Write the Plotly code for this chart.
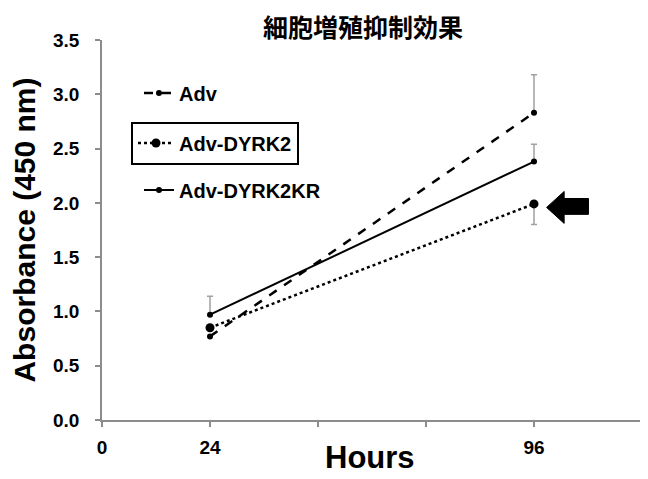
import plotly.graph_objects as go

# ---- data ----
HOURS = [24, 96]
SERIES = ["Adv", "Adv-DYRK2", "Adv-DYRK2KR"]
ADV = [0.77, 2.83]
ADV_ERR_UP = [0.0, 0.35]
DYRK2 = [0.85, 1.99]
DYRK2_ERR_DOWN = [0.0, 0.19]
DYRK2KR = [0.97, 2.38]
DYRK2KR_ERR_UP = [0.17, 0.16]
X_TICKS = [0, 24, 48, 72, 96, 120]
X_TICK_TEXT = ["0", "24", "", "", "96", ""]
Y_TICKS = [0.0, 0.5, 1.0, 1.5, 2.0, 2.5, 3.0, 3.5]

FONT = "Liberation Sans, Arial, sans-serif"
ERR_COLOR = "#a0a0a0"

# page body has an 8px default margin, so the figure is laid out in 640x471
W, H = 640, 471
L, R, T, B = 94, 6, 32, 59
PW, PH = W - L - R, H - T - B

fig = go.Figure()

fig.add_trace(go.Scatter(
    x=HOURS, y=ADV, name=SERIES[0], mode="lines+markers",
    line=dict(color="black", width=2.5, dash="dash"),
    marker=dict(color="black", size=6),
    error_y=dict(type="data", symmetric=False, array=ADV_ERR_UP,
                 arrayminus=[0, 0], color=ERR_COLOR, thickness=1.5, width=3),
    legend="legend", showlegend=True,
))
fig.add_trace(go.Scatter(
    x=HOURS, y=DYRK2, name=SERIES[1], mode="lines+markers",
    line=dict(color="black", width=2.5, dash="dot"),
    marker=dict(color="black", size=9),
    error_y=dict(type="data", symmetric=False, array=[0, 0],
                 arrayminus=DYRK2_ERR_DOWN, color=ERR_COLOR, thickness=1.5, width=3),
    legend="legend2", showlegend=True,
))
fig.add_trace(go.Scatter(
    x=HOURS, y=DYRK2KR, name=SERIES[2], mode="lines+markers",
    line=dict(color="black", width=2),
    marker=dict(color="black", size=6),
    error_y=dict(type="data", symmetric=False, array=DYRK2KR_ERR_UP,
                 arrayminus=[0, 0], color=ERR_COLOR, thickness=1.5, width=3),
    legend="legend3", showlegend=True,
))

legend_common = dict(
    font=dict(family=FONT, size=20, color="black", weight="bold"),
    bgcolor="rgba(0,0,0,0)", xanchor="left", yanchor="middle",
    visible=True,
)

fig.update_layout(
    width=W, height=H,
    showlegend=True,
    margin=dict(l=L, r=R, t=T, b=B, autoexpand=False),
    paper_bgcolor="white", plot_bgcolor="white",
    title=dict(text="細胞増殖抑制効果", x=355 / W, xanchor="center",
               y=1 - 20 / H, yanchor="middle",
               font=dict(family="Noto Sans CJK JP", size=25, color="black", weight="bold")),
    xaxis=dict(
        range=[0, 120], tickvals=X_TICKS, ticktext=X_TICK_TEXT,
        showline=True, linecolor="#8c8c8c", linewidth=1.5,
        ticks="outside", ticklen=5, tickcolor="#8c8c8c", tickwidth=1.5,
        showgrid=False, zeroline=False, automargin=False,
        ticklabelstandoff=4,
        tickfont=dict(family=FONT, size=19, color="black", weight="bold"),
    ),
    yaxis=dict(
        range=[0, 3.5], tickvals=Y_TICKS, tickformat=".1f",
        showline=True, linecolor="#8c8c8c", linewidth=1.5,
        ticks="outside", ticklen=5, tickcolor="#8c8c8c", tickwidth=1.5,
        showgrid=False, zeroline=False, automargin=False,
        ticklabelstandoff=12,
        tickfont=dict(family=FONT, size=19, color="black", weight="bold"),
        title=dict(text="Absorbance (450 nm)", standoff=9,
                   font=dict(family=FONT, size=30, color="black", weight="bold")),
    ),
    annotations=[dict(
        text="Hours", xref="paper", yref="paper",
        x=(362 - L) / PW, y=(PH + T - 449) / PH,
        xanchor="center", yanchor="middle", showarrow=False,
        font=dict(family=FONT, size=31, color="black", weight="bold"),
    )],
    legend=dict(x=37 / PW, y=(PH + T - 85) / PH, borderwidth=0, itemwidth=30,
                **legend_common),
    legend2=dict(x=29 / PW, y=(PH + T - 135) / PH, borderwidth=2, itemwidth=36,
                 bordercolor="black", **legend_common),
    legend3=dict(x=37 / PW, y=(PH + T - 182) / PH, borderwidth=0, itemwidth=30,
                 **legend_common),
    shapes=[dict(
        type="path", xref="x", yref="y",
        path="M 98.8,1.958 L 102.7,2.105 L 102.7,2.04 L 108.1,2.04 L 108.1,1.894 "
             "L 102.7,1.894 L 102.7,1.811 Z",
        fillcolor="black", line=dict(color="black", width=1),
    )],
)

fig.write_html("out.html")
